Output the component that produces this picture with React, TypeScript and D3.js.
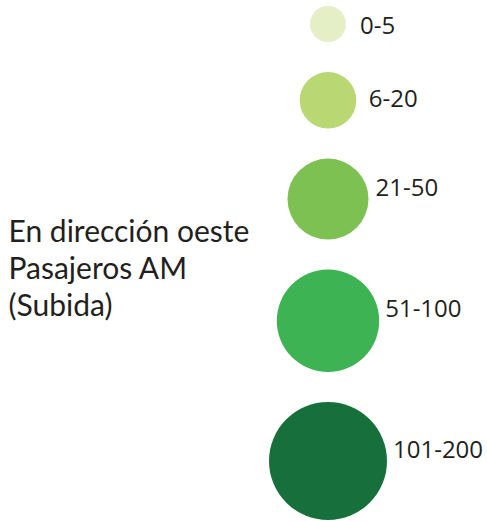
import React from "react";
import * as d3 from "d3";

const classLabels = ["0-5", "6-20", "21-50", "51-100", "101-200"];
const classUpper = [5, 20, 50, 100, 200];
const classColors = ["#e5efc6", "#b9d874", "#7cc152", "#3db354", "#176f3c"];
const titleLines = ["En dirección oeste", "Pasajeros AM", "(Subida)"];

const W = 487;
const H = 521;

export default function App() {
  const rScale = d3
    .scaleOrdinal<number, number>()
    .domain(classUpper)
    .range([18, 28.3, 40.5, 51.2, 59]);
  const color = d3.scaleOrdinal<string, string>().domain(classLabels).range(classColors);

  const cx = 328;
  const gap = 30;
  let top = 6;
  const items = classUpper.map((v, i) => {
    const r = rScale(v);
    const cy = top + r;
    top = cy + r + gap;
    return { label: classLabels[i], r, cy };
  });
  // label offsets relative to circle edge / centre
  const labelDx = [14, 12.5, 7, 6, 6];
  const labelDy = [10, 7, -3, -4, -3];

  const titleY = d3.scaleLinear().domain([0, 1]).range([241.7, 278.8]);

  return (
    <svg
      width={W}
      height={H}
      style={{ position: "absolute", left: 0, top: 0, display: "block" }}
    >
      <rect width={W} height={H} fill="#ffffff" />
      {items.map((d, i) => (
        <g key={d.label}>
          <circle cx={cx} cy={d.cy} r={d.r} fill={color(d.label)} />
          <text
            x={cx + d.r + labelDx[i]}
            y={d.cy + labelDy[i]}
            fontFamily="'Open Sans', sans-serif"
            fontSize={24}
            fill="#231f20"
          >
            {d.label}
          </text>
        </g>
      ))}
      {titleLines.map((t, i) => (
        <text
          key={t}
          x={8.5}
          y={titleY(i)}
          fontFamily="Lato, sans-serif"
          fontSize={30}
          fill="#231f20"
        >
          {t}
        </text>
      ))}
    </svg>
  );
}
